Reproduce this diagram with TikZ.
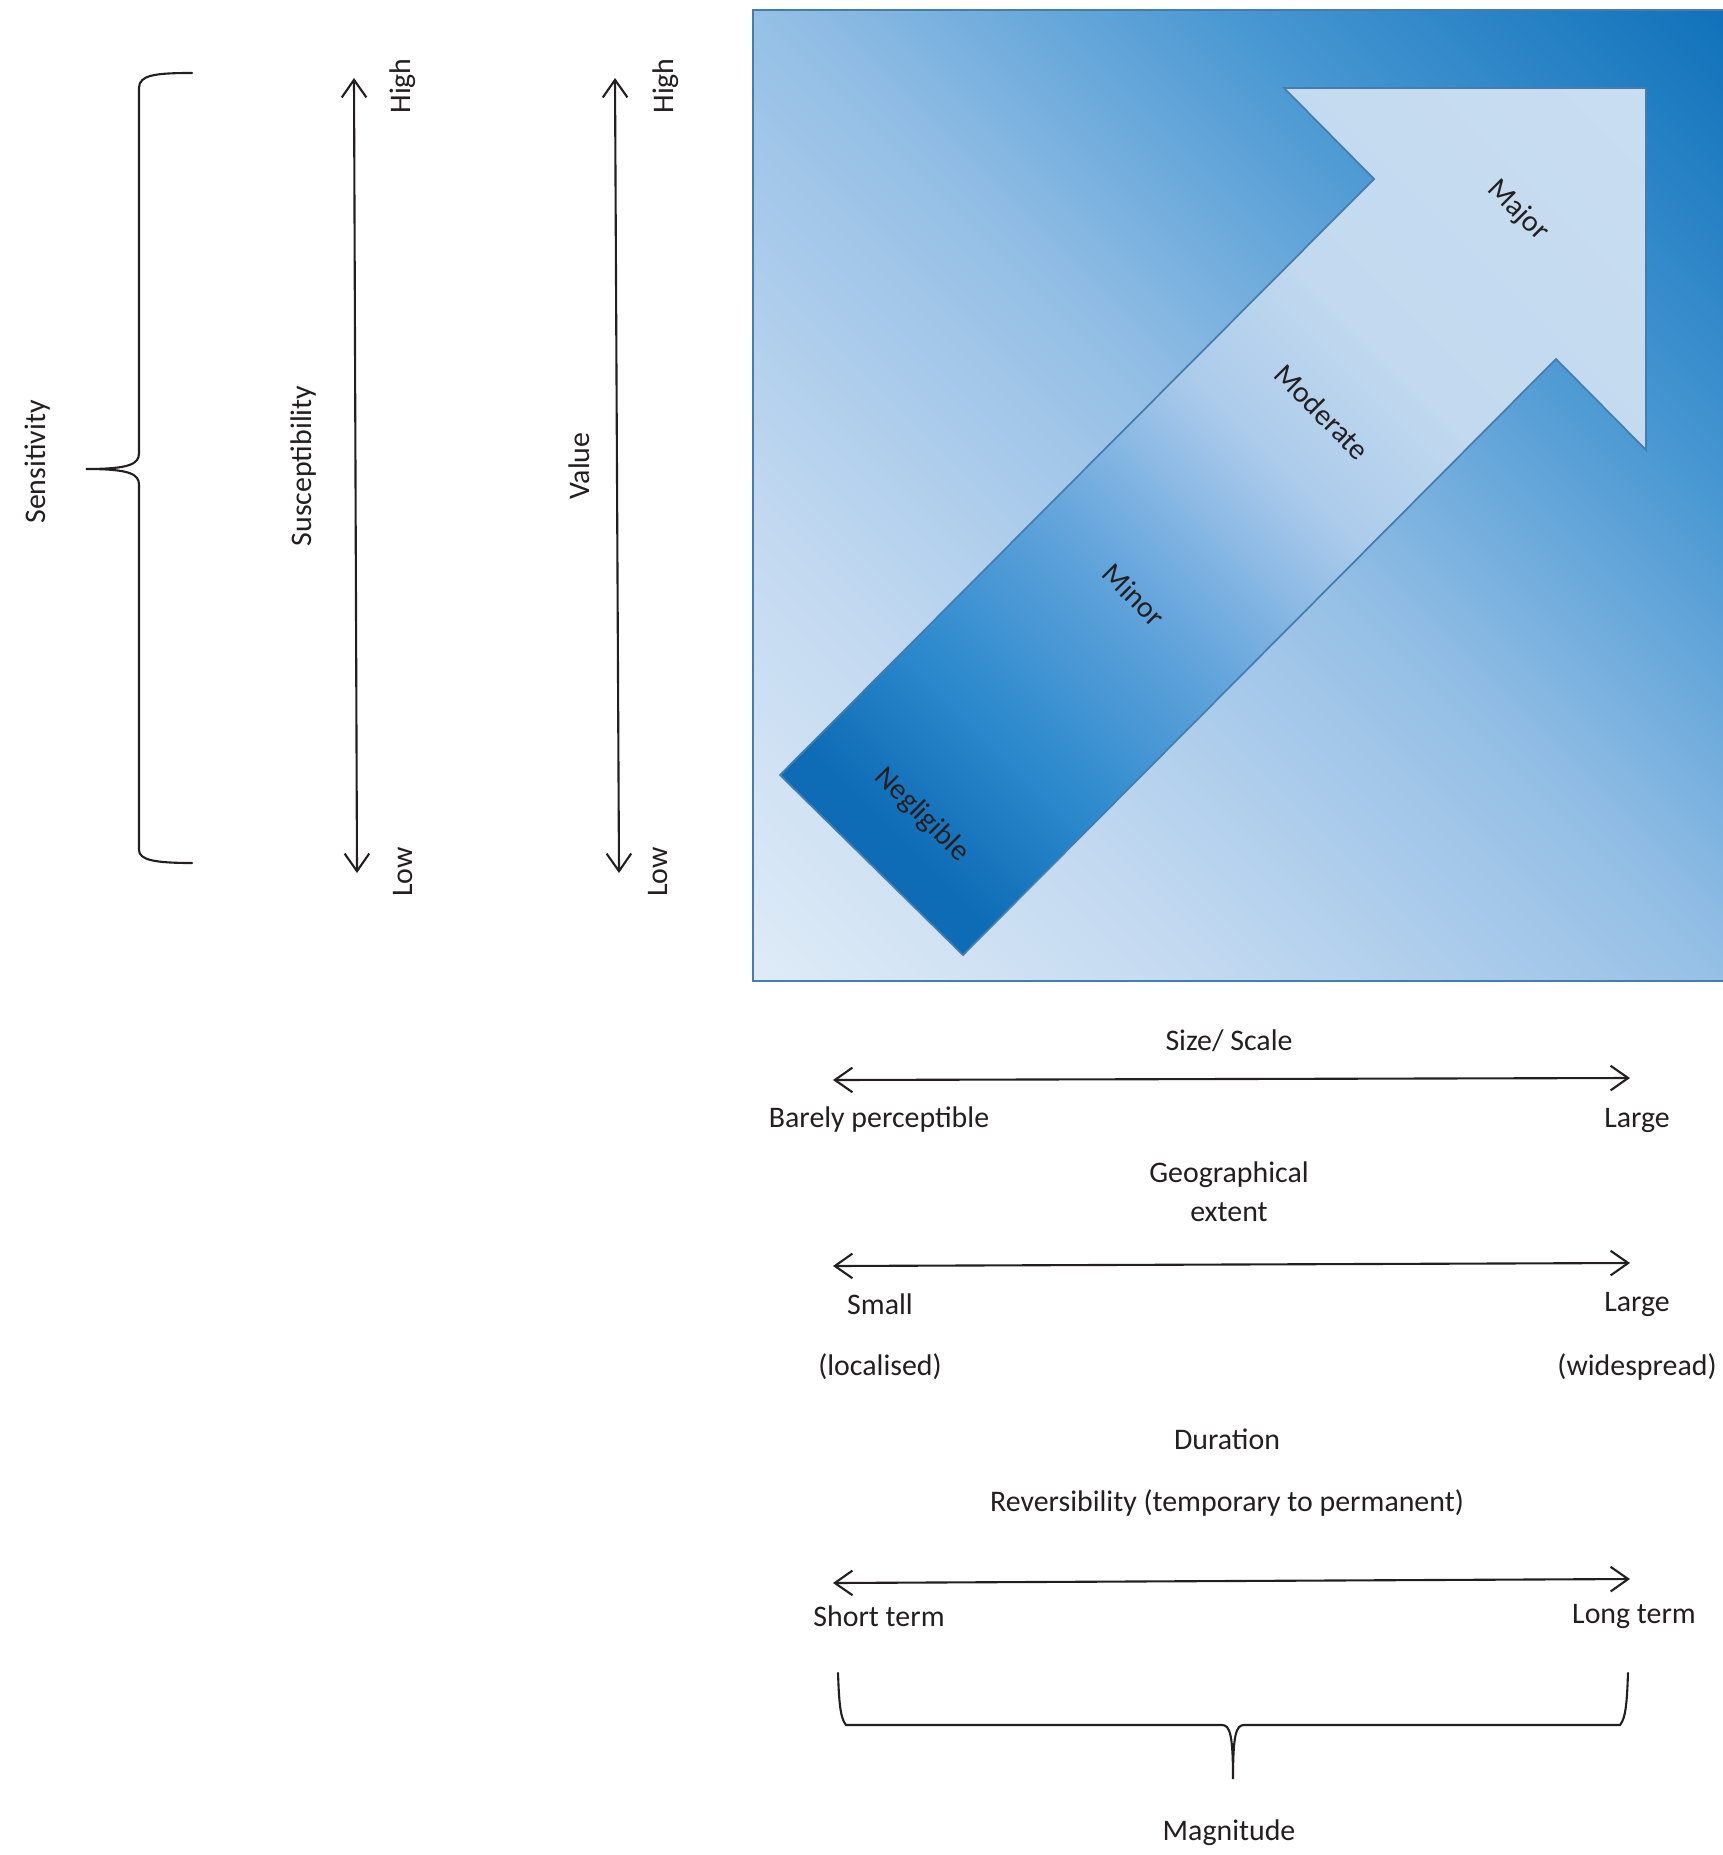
\documentclass[tikz,border=0pt]{standalone}
\usepackage{fontspec}
\setmainfont{Carlito}
\usetikzlibrary{arrows.meta,positioning}
\definecolor{InkGray}{RGB}{35,31,32}
\definecolor{EdgeBlue}{RGB}{70,125,175}
\definecolor{DeepBlue}{RGB}{14,112,185}
\definecolor{PaleBlue}{RGB}{222,235,247}
\definecolor{SqMidA}{RGB}{193,216,240}
\definecolor{SqMidB}{RGB}{150,192,230}
\definecolor{SqMidC}{RGB}{70,150,210}
\definecolor{ArDark}{RGB}{14,108,182}
\definecolor{ArMidA}{RGB}{45,138,205}
\definecolor{ArMidB}{RGB}{100,165,220}
\definecolor{ArMidC}{RGB}{172,203,235}
\definecolor{ArLightA}{RGB}{194,217,239}
\definecolor{ArLightB}{RGB}{205,224,243}
\pgfdeclareverticalshading{squarefade}{100bp}{color(0bp)=(PaleBlue); color(15bp)=(PaleBlue);
  color(32bp)=(SqMidA); color(50bp)=(SqMidB); color(68bp)=(SqMidC); color(86bp)=(DeepBlue); color(100bp)=(DeepBlue)}
\pgfdeclareverticalshading{arrowfade}{100bp}{color(0bp)=(ArDark); color(24bp)=(ArDark);
  color(33bp)=(ArMidA); color(44bp)=(ArMidB); color(55bp)=(ArMidC); color(64bp)=(ArLightA); color(100bp)=(ArLightB)}

\begin{document}
\begin{tikzpicture}[x=0.02cm,y=-0.02cm,
    lbl/.style={font=\fontsize{17}{22}\selectfont,text=InkGray,inner sep=1pt},
    twohead/.style={{Straight Barb[length=10pt,width=14pt]}-{Straight Barb[length=10pt,width=14pt]},line width=1.2pt,InkGray},
    brc/.style={line width=1.2pt,InkGray,line cap=round}]
  \useasboundingbox (0,0) rectangle (1723,1855);
  \shadedraw[shading=squarefade,shading angle=-45,draw=EdgeBlue,line width=1pt] (753,10) rectangle (1725,981);
  \shadedraw[shading=arrowfade,shading angle=-45,draw=EdgeBlue,line width=1pt]
    (780,775) -- (1374,179) -- (1284,88) -- (1646,88) -- (1646,450) -- (1556,359) -- (963,955) -- cycle;
  \node[lbl,rotate=-45] (major) at (1518,211) {Major};
  \node[lbl,rotate=-45] (moderate) at (1322,412) {Moderate};
  \node[lbl,rotate=-45] (minor) at (1134,595) {Minor};
  \node[lbl,rotate=-45] (negligible) at (922,815) {Negligible};

  \draw[brc] (192,73) .. controls (155,73) and (139,75) .. (139,88) -- (139,453)
    .. controls (139,464) and (130,469) .. (86,469) .. controls (130,469) and (139,474) .. (139,485)
    -- (139,850) .. controls (139,860) and (155,863) .. (192,863);
  \node[lbl,rotate=90] (sens) at (38,462) {Sensitivity};

  \coordinate (susTop) at (354,78);
  \coordinate (susBot) at (357,873);
  \draw[twohead] (susTop) -- (susBot);
  \node[lbl,rotate=90] (susc) at (304,466) {Susceptibility};
  \node[lbl,rotate=90] (susHigh) at (403,86) {High};
  \node[lbl,rotate=90] (susLow) at (403,872) {Low};

  \coordinate (valTop) at (615,78);
  \coordinate (valBot) at (619,873);
  \draw[twohead] (valTop) -- (valBot);
  \node[lbl,rotate=90] (val) at (579,466) {Value};
  \node[lbl,rotate=90] (valHigh) at (666,86) {High};
  \node[lbl,rotate=90] (valLow) at (658,872) {Low};

  \node[lbl] (size) at (1229,1041) {Size/ Scale};
  \coordinate (sizeL) at (833,1080);
  \coordinate (sizeR) at (1630,1078);
  \draw[twohead] (sizeL) -- (sizeR);
  \node[lbl] (barely) at (879,1120) {Barely perceptible};
  \node[lbl] (largeA) at (1637,1120) {Large};

  \node[lbl,align=center] (geo) at (1229,1192) {Geographical\\extent};
  \coordinate (geoL) at (833,1266);
  \coordinate (geoR) at (1630,1263);
  \draw[twohead] (geoL) -- (geoR);
  \node[lbl] (small) at (880,1304) {Small};
  \node[lbl] (largeB) at (1637,1304) {Large};
  \node[lbl] (localised) at (880,1367) {(localised)};
  \node[lbl] (widespread) at (1637,1367) {(widespread)};

  \node[lbl] (duration) at (1227,1439) {Duration};
  \node[lbl] (reverse) at (1227,1503) {Reversibility (temporary to permanent)};
  \coordinate (durL) at (833,1583);
  \coordinate (durR) at (1630,1579);
  \draw[twohead] (durL) -- (durR);
  \node[lbl] (short) at (879,1616) {Short term};
  \node[lbl] (long) at (1634,1616) {Long term};

  \draw[brc] (838,1673) .. controls (839,1700) and (840,1718) .. (846,1725) -- (1222,1725)
    .. controls (1230,1725) and (1233,1735) .. (1233,1779) .. controls (1233,1735) and (1236,1725) .. (1244,1725)
    -- (1620,1725) .. controls (1626,1718) and (1627,1700) .. (1628,1673);
  \node[lbl] (magnitude) at (1229,1833) {Magnitude};
\end{tikzpicture}
\end{document}
